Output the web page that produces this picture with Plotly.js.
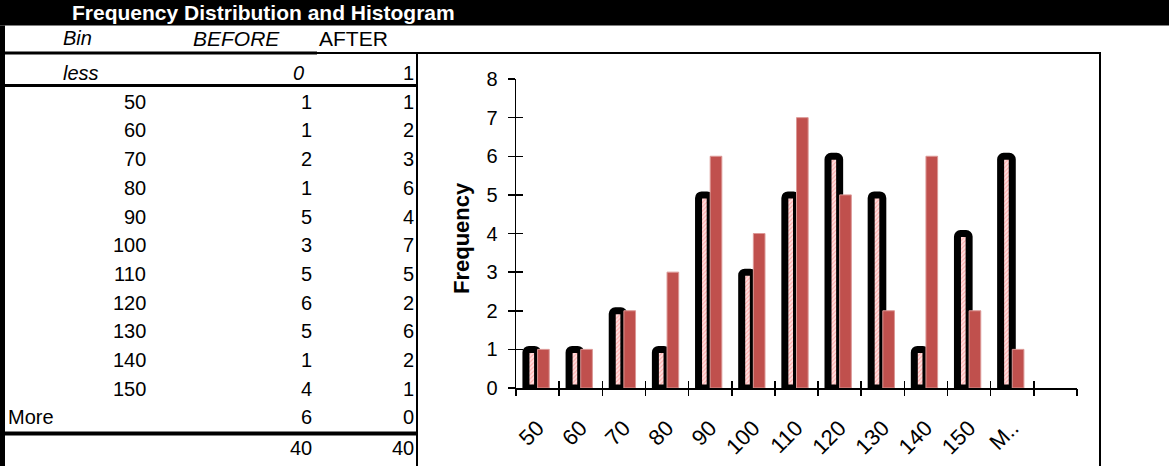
<!DOCTYPE html>
<html>
<head>
<meta charset="utf-8">
<script src="https://cdn.plot.ly/plotly-3.0.1.min.js"></script>
<style>
  html, body { margin: 0; padding: 0; background: #fff; }
  #chart { width: 1169px; height: 466px; }
</style>
</head>
<body>
<div id="chart"></div>
<script>
// Frequency table: one row per bin, counts before and after
const binLabels = ['less', '50', '60', '70', '80', '90', '100', '110', '120', '130', '140', '150', 'More'];
const beforeCounts = [0, 1, 1, 2, 1, 5, 3, 5, 6, 5, 1, 4, 6];
const afterCounts = [1, 1, 2, 3, 6, 4, 7, 5, 2, 6, 2, 1, 0];

// Histogram category labels (the last one is clipped in the sheet)
const chartTickLabels = ['50', '60', '70', '80', '90', '100', '110', '120', '130', '140', '150', 'M..'];
const yTickValues = [0, 1, 2, 3, 4, 5, 6, 7, 8];

// BEFORE is charted from the "50" row down; AFTER from the "less" row down
const chartBefore = beforeCounts.slice(1);
const chartAfter = afterCounts.slice(0, chartTickLabels.length);

const sum = a => a.reduce((s, v) => s + v, 0);

const W = 1169, H = 466;
const px = x => x / W;
const py = y => 1 - y / H;
const FONT = 'Liberation Sans, Arial, sans-serif';
const idx = chartTickLabels.map((_, i) => i);
const nSlots = chartTickLabels.length + 1;

// empty traces so the tick-only overlay axes get drawn
const axisHolder = (xa, ya) => ({ type: 'scatter', mode: 'markers', x: [], y: [],
  xaxis: xa, yaxis: ya, hoverinfo: 'skip', showlegend: false });

const traces = [
  {
    type: 'bar', name: 'BEFORE', x: idx, y: chartBefore,
    marker: {
      color: '#ffd2d2',
      pattern: { shape: '/', fgcolor: '#ffaaaa', bgcolor: '#ffdede', size: 3, solidity: 0.35 },
      line: { color: '#000', width: 7 },
      cornerradius: 3
    },
    hoverinfo: 'skip'
  },
  {
    type: 'bar', name: 'AFTER', x: idx, y: chartAfter,
    marker: { color: '#C0504D', line: { color: '#dc9896', width: 1 } },
    hoverinfo: 'skip'
  },
  axisHolder('x2', 'y'),
  axisHolder('x3', 'y'),
  axisHolder('x', 'y2')
];

// ---- table text ----
const annotations = [];
const txt = (text, x, y, anchor, extra) => annotations.push(Object.assign({
  text, x: px(x), y: py(y), xref: 'paper', yref: 'paper',
  xanchor: anchor, yanchor: 'middle', showarrow: false,
  font: { family: FONT, size: 20, color: '#000' }
}, extra || {}));

txt('<b>Frequency Distribution and Histogram</b>', 70, 12.5, 'left',
    { font: { family: FONT, size: 21, color: '#fff' } });
txt('<i>Bin</i>', 61, 38.5, 'left');
txt('<i>BEFORE</i>', 282, 38.5, 'right', { font: { family: FONT, size: 21, color: '#000' } });
txt('AFTER', 317, 38.5, 'left', { font: { family: FONT, size: 21, color: '#000' } });

const rowY = i => (i === 0 ? 73 : 101.7 + 28.7 * (i - 1));
binLabels.forEach((b, i) => {
  const y = rowY(i);
  if (i === 0) {
    txt('<i>' + b + '</i>', 61, y, 'left');
    txt('<i>' + beforeCounts[i] + '</i>', 306, y, 'right');
  } else if (b === 'More') {
    txt(b, 6, y, 'left');
    txt(String(beforeCounts[i]), 314, y, 'right');
  } else {
    txt(b, 148, y, 'right');
    txt(String(beforeCounts[i]), 314, y, 'right');
  }
  txt(String(afterCounts[i]), 416, y, 'right');
});
txt(String(sum(beforeCounts)), 314, 447.5, 'right');
txt(String(sum(afterCounts)), 416, 447.5, 'right');

// y-axis caption of the histogram
txt('<b>Frequency</b>', 461, 238, 'center',
    { textangle: -90, font: { family: FONT, size: 22, color: '#000' } });

// ---- sheet lines and header band ----
const hline = (x0, x1, y, w) => ({ type: 'line', xref: 'paper', yref: 'paper',
  x0: px(x0), x1: px(x1), y0: py(y), y1: py(y), line: { color: '#000', width: w } });
const vline = (x, y0, y1, w) => ({ type: 'line', xref: 'paper', yref: 'paper',
  x0: px(x), x1: px(x), y0: py(y0), y1: py(y1), line: { color: '#000', width: w } });

const shapes = [
  { type: 'rect', xref: 'paper', yref: 'paper', x0: 0, x1: 1, y0: py(25.5), y1: 1,
    fillcolor: '#000', line: { width: 0 }, layer: 'below' },
  { type: 'rect', xref: 'paper', yref: 'paper', x0: 0, x1: px(5), y0: 0, y1: py(25.5),
    fillcolor: '#000', line: { width: 0 } },
  hline(0, 317, 53, 3),
  hline(317, 1101, 53, 2),
  hline(0, 417, 85.5, 3),
  hline(0, 417, 433.5, 4),
  vline(417, 52, 466, 2),
  vline(1100, 52, 466, 2)
];

const xDomain = [px(516), px(1077)];
const yDomain = [py(388), py(79)];
const xRange = [-0.5, nSlots - 0.5];
const yRange = [0, 8];

const boundaryTicks = side => ({
  overlaying: 'x', anchor: 'y', side: 'bottom', range: xRange,
  tickmode: 'linear', tick0: -0.5, dtick: 1,
  ticks: side, ticklen: 7, tickwidth: 1.5, tickcolor: '#000',
  showticklabels: false, showgrid: false, zeroline: false, showline: false, fixedrange: true
});

const layout = {
  width: W, height: H,
  margin: { l: 0, r: 0, t: 0, b: 0 },
  paper_bgcolor: '#fff', plot_bgcolor: 'rgba(0,0,0,0)',
  showlegend: false,
  barmode: 'group', bargap: 0.46, bargroupgap: 0,
  xaxis: {
    domain: xDomain, range: xRange, anchor: 'y',
    tickmode: 'array', tickvals: idx, ticktext: chartTickLabels,
    tickangle: -45, ticks: '', tickfont: { family: FONT, size: 22, color: '#000' },
    ticklabelstandoff: 17,
    showline: true, linecolor: '#000', linewidth: 1.5,
    showgrid: false, zeroline: false, fixedrange: true
  },
  xaxis2: boundaryTicks('outside'),
  xaxis3: boundaryTicks('inside'),
  yaxis: {
    domain: yDomain, range: yRange, anchor: 'x',
    tickmode: 'array', tickvals: yTickValues,
    ticks: 'outside', ticklen: 7, tickwidth: 1.5, tickcolor: '#000',
    tickfont: { family: FONT, size: 20, color: '#000' }, ticklabelstandoff: 6,
    showline: true, linecolor: '#000', linewidth: 1.5,
    showgrid: false, zeroline: false, fixedrange: true
  },
  yaxis2: {
    overlaying: 'y', anchor: 'x', side: 'left', range: yRange,
    tickmode: 'array', tickvals: yTickValues,
    ticks: 'inside', ticklen: 7, tickwidth: 1.5, tickcolor: '#000',
    showticklabels: false, showgrid: false, zeroline: false, showline: false, fixedrange: true
  },
  shapes, annotations
};

Plotly.newPlot('chart', traces, layout, { staticPlot: true, displayModeBar: false });
</script>
</body>
</html>
